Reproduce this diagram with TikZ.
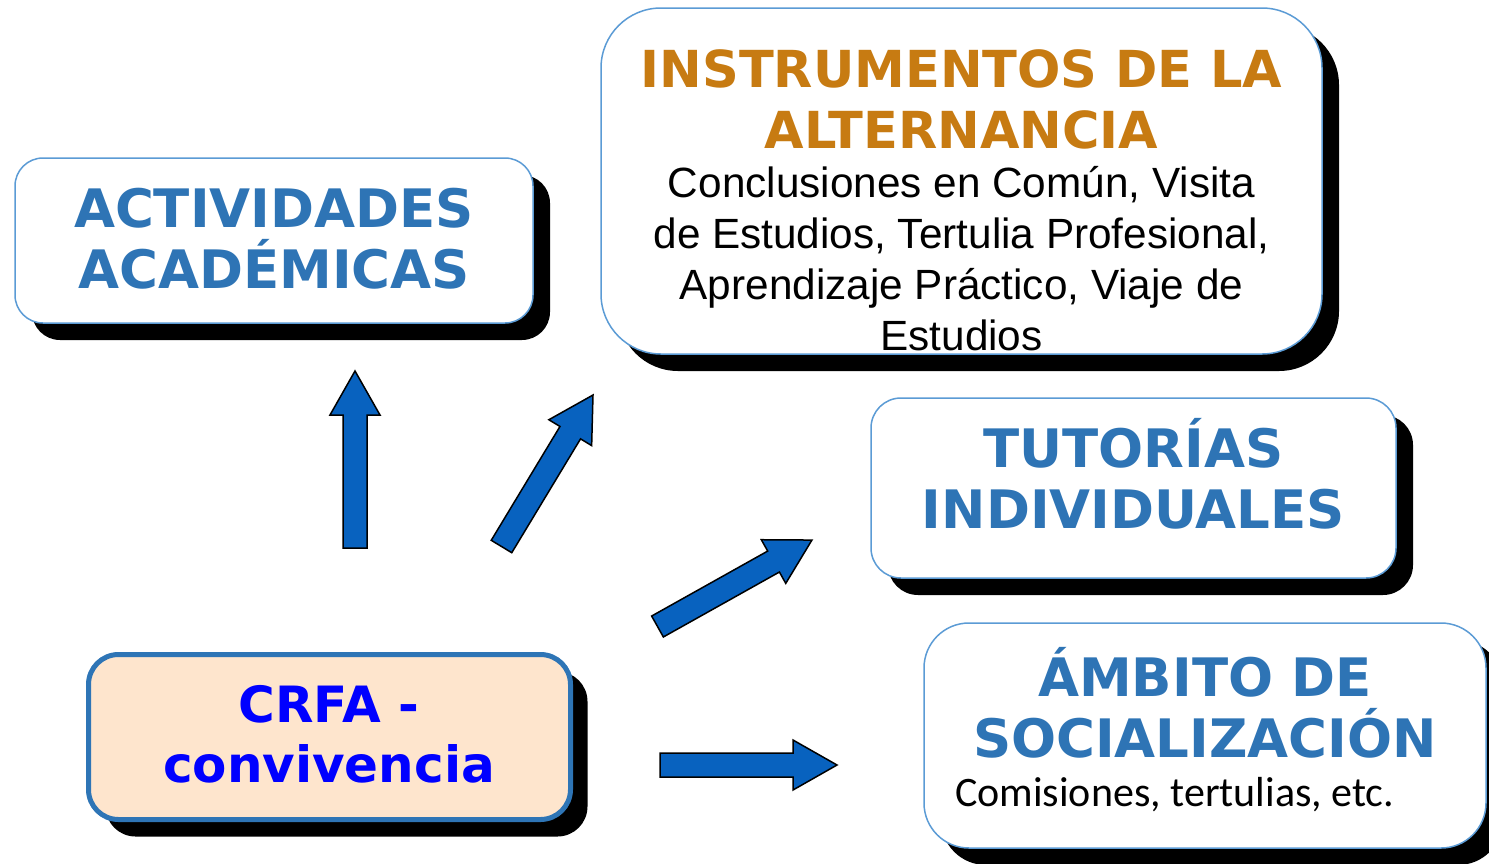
\documentclass[tikz,border=0pt]{standalone}
\usepackage{fontspec}
\setmainfont{Liberation Sans}
\newfontfamily\verdana{DejaVu Sans}
\newfontfamily\calibri{Carlito}
\usetikzlibrary{shadows}
\definecolor{azultit}{HTML}{2E74B5}
\definecolor{naranja}{HTML}{C77B12}
\definecolor{borde}{HTML}{5B9BD5}
\definecolor{flechazul}{HTML}{0862BF}
\definecolor{crema}{HTML}{FEE5CD}
\definecolor{bordecrfa}{HTML}{2E75B6}

\tikzset{
  caja/.style={draw=borde, line width=1.5pt, fill=white, inner sep=0pt,
    drop shadow={shadow xshift=17pt, shadow yshift=-17pt, opacity=1, fill=black}},
  titulo/.style={font=\verdana\bfseries\fontsize{53}{61}\selectfont, text=azultit,
    align=center, inner sep=0pt, anchor=base},
  texto/.style={font=\fontsize{42.3}{51}\selectfont, align=center, inner sep=0pt, anchor=base},
  flecha/.style={draw=black, line width=1.5pt, fill=flechazul, line join=miter}
}
\newcommand{\flechabloque}[2]{%
  \draw[flecha, shift={#1}, rotate=#2] (0,12) -- (133,12) -- (133,25) -- (177,0)
    -- (133,-25) -- (133,-12) -- (0,-12) -- cycle;}

\begin{document}
\begin{tikzpicture}[x=1pt,y=-1pt]
\useasboundingbox (0,0) rectangle (1489,863);

% cajas
\node[caja, rounded corners=28pt, minimum width=518pt, minimum height=165pt] (act) at (274,240.5) {};
\node[caja, rounded corners=60pt, minimum width=721pt, minimum height=346pt] (inst) at (961.5,181) {};
\node[caja, rounded corners=30pt, minimum width=525pt, minimum height=180pt] (tut) at (1133.5,488) {};
\node[caja, rounded corners=45pt, minimum width=562pt, minimum height=225pt] (amb) at (1205,735.5) {};
\node[caja, draw=bordecrfa, line width=5pt, fill=crema, rounded corners=30pt,
  minimum width=482pt, minimum height=165pt] (crfa) at (329.5,737) {};

% textos (base = ultima linea)
\node[titulo] (act-t) at (274,288) {ACTIVIDADES\\ACADÉMICAS};
\node[titulo, text=naranja, font=\verdana\bfseries\fontsize{51}{61}\selectfont] (inst-t) at (961.5,148)
  {INSTRUMENTOS DE LA\\ALTERNANCIA};
\node[texto] (inst-x) at (961.5,350)
  {Conclusiones en Común, Visita\\de Estudios, Tertulia Profesional,\\Aprendizaje Práctico, Viaje de\\Estudios};
\node[titulo] (tut-t) at (1133.5,528) {TUTORÍAS\\INDIVIDUALES};
\node[titulo] (amb-t) at (1205,757) {ÁMBITO DE\\SOCIALIZACIÓN};
\node[texto, font=\calibri\fontsize{42}{51}\selectfont, anchor=base west] (amb-x) at (955,806)
  {Comisiones, tertulias, etc.};
\node[titulo, text=blue, font=\verdana\bfseries\fontsize{50}{60}\selectfont] (crfa-t) at (329,782)
  {CRFA -\\convivencia};

% flechas
\flechabloque{(355,548)}{90}
\flechabloque{(501.5,546.5)}{58.87}
\flechabloque{(657.5,626.5)}{29.24}
\flechabloque{(660,765)}{0}
\end{tikzpicture}
\end{document}
